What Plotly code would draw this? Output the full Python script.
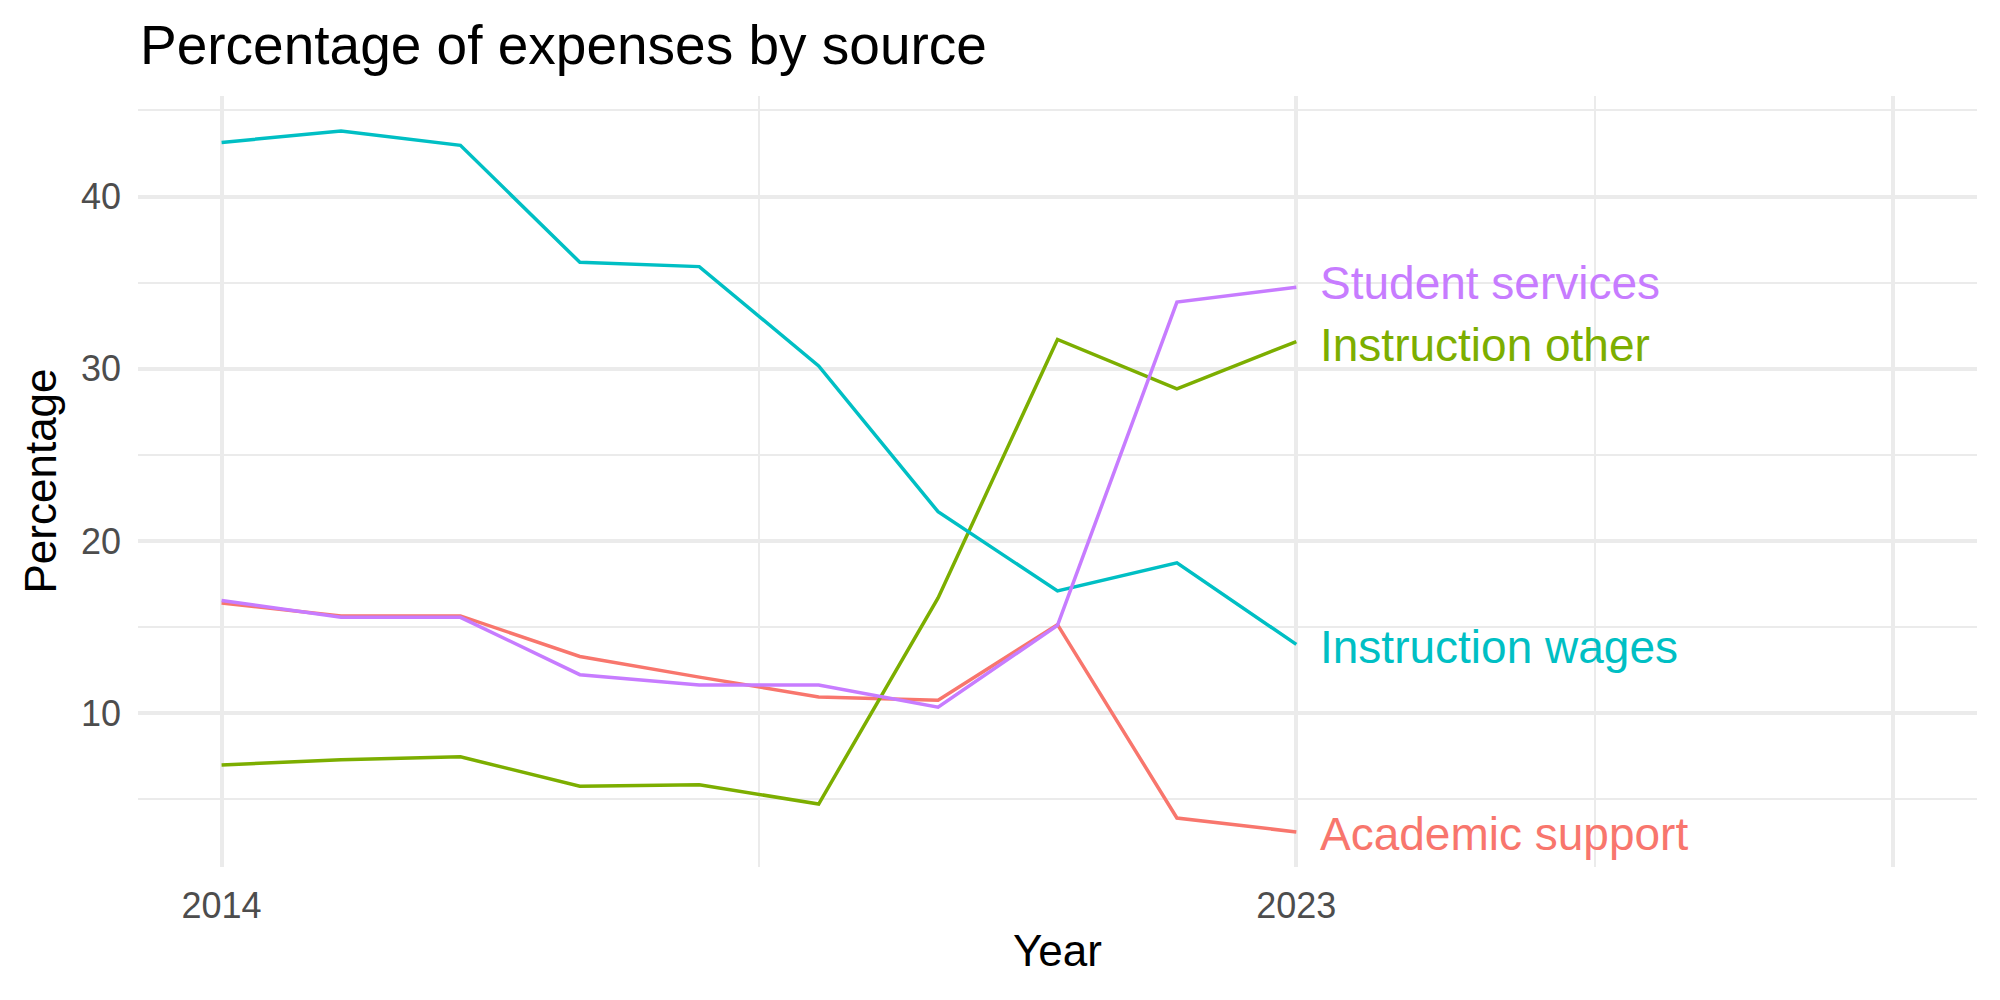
import plotly.graph_objects as go

years = [2014, 2015, 2016, 2017, 2018, 2019, 2020, 2021, 2022, 2023]
academic_support = [16.4, 15.65, 15.65, 13.3, 12.1, 10.95, 10.75, 15.15, 3.92, 3.11]
instruction_other = [7.0, 7.3, 7.47, 5.77, 5.85, 4.73, 16.7, 31.7, 28.83, 31.58]
instruction_wages = [43.14, 43.8, 42.97, 36.18, 35.93, 30.16, 21.7, 17.1, 18.73, 14.0]
student_services = [16.55, 15.57, 15.57, 12.24, 11.64, 11.64, 10.35, 15.1, 33.87, 34.73]

series_names = ["Academic support", "Instruction other", "Instruction wages", "Student services"]
series_values = [academic_support, instruction_other, instruction_wages, student_services]
series_colors = ["#F8766D", "#7CAE00", "#00BFC4", "#C77CFF"]
label_yshift = [-2, -3, -3, 4]

x_tick_vals = [2014, 2023, 2028]
x_tick_text = ["2014", "2023", ""]
x_minor_vals = [2018.5, 2025.5]
y_tick_vals = [10, 20, 30, 40]
y_minor_vals = [5, 15, 25, 35, 45]

FONT = "Liberation Sans, Arial, Helvetica, sans-serif"

# ggplot-like expansion (5%)
x_lo, x_hi = 2014, 2028
xpad = 0.05 * (x_hi - x_lo)
all_vals = [v for s in series_values for v in s]
y_lo, y_hi = min(all_vals), max(all_vals)
ypad = 0.05 * (y_hi - y_lo)

fig = go.Figure()
for name, vals, col, ys in zip(series_names, series_values, series_colors, label_yshift):
    fig.add_trace(go.Scatter(x=years, y=vals, mode="lines", name=name,
                             line=dict(color=col, width=3.5), showlegend=False))
    fig.add_annotation(x=years[-1], y=vals[-1], xref="x", yref="y", text=name,
                       showarrow=False, xanchor="left", yanchor="middle",
                       xshift=22, yshift=ys, font=dict(family=FONT, size=46, color=col))

L, R, T, B = 138, 23, 96, 133
W, H = 2000, 1000
pw, ph = W - L - R, H - T - B

fig.add_annotation(x=(138 - L) / pw, y=(H - B - 45) / ph, xref="paper", yref="paper",
                   text="Percentage of expenses by source", showarrow=False,
                   xanchor="left", yanchor="middle",
                   font=dict(family=FONT, size=55, color="black"))

fig.add_annotation(x=0.5, y=(H - B - 950) / ph, xref="paper", yref="paper",
                   text="Year", showarrow=False, xanchor="center", yanchor="middle",
                   font=dict(family=FONT, size=44, color="black"))
fig.add_annotation(x=(40 - L) / pw, y=0.5, xref="paper", yref="paper",
                   text="Percentage", showarrow=False, textangle=-90,
                   xanchor="center", yanchor="middle",
                   font=dict(family=FONT, size=44, color="black"))

fig.update_layout(
    width=W, height=H,
    margin=dict(l=L, r=R, t=T, b=B),
    paper_bgcolor="white", plot_bgcolor="white",
    font=dict(family=FONT),
    xaxis=dict(range=[x_lo - xpad, x_hi + xpad], tickmode="array",
               tickvals=x_tick_vals, ticktext=x_tick_text,
               showgrid=True, gridcolor="#EBEBEB", gridwidth=3.5,
               zeroline=False, showline=False, ticks="",
               ticklabelstandoff=14,
               tickfont=dict(family=FONT, size=36, color="#4D4D4D"),
               minor=dict(tickmode="array", tickvals=x_minor_vals, showgrid=True,
                          gridcolor="#EBEBEB", gridwidth=2, ticks="")),
    yaxis=dict(range=[y_lo - ypad, y_hi + ypad], tickmode="array",
               tickvals=y_tick_vals,
               showgrid=True, gridcolor="#EBEBEB", gridwidth=3.5,
               zeroline=False, showline=False, ticks="",
               ticklabelstandoff=16,
               tickfont=dict(family=FONT, size=36, color="#4D4D4D"),
               minor=dict(tickmode="array", tickvals=y_minor_vals, showgrid=True,
                          gridcolor="#EBEBEB", gridwidth=2, ticks="")),
)

fig.write_html("out.html")
